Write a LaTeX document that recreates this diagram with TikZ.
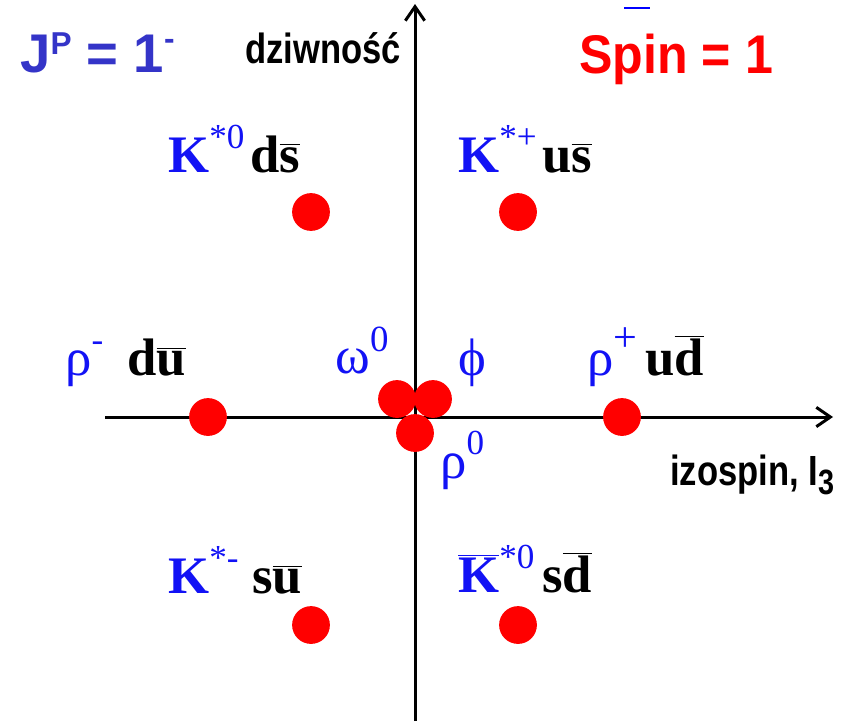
\documentclass[tikz,border=0pt]{standalone}
\usepackage{graphicx}
\usepackage{fontspec}
\setmainfont{Liberation Serif}
\newfontfamily\labfont{Liberation Sans}
\usetikzlibrary{arrows.meta}
\definecolor{mesonblue}{RGB}{18,18,245}
\definecolor{titleblue}{RGB}{52,52,200}
\definecolor{dotred}{RGB}{255,0,0}

\newcommand\qbar[1]{$\overline{\hbox{#1}}$}
\newcommand\kup[2][20]{\raisebox{13.5pt}{\fontsize{#1}{#1}\selectfont #2}}

\begin{document}
\begin{tikzpicture}[
  x=0.2mm,y=-0.2mm,
  axis/.style={line width=1.7pt,-{Straight Barb[length=8pt,width=11pt]}},
  dot/.style={circle,fill=dotred,minimum size=21.5pt,inner sep=0pt},
  meson/.style={anchor=base west,inner sep=0pt,text=mesonblue,font=\fontsize{30}{30}\selectfont},
  quark/.style={anchor=base west,inner sep=0pt,font=\fontsize{30}{30}\selectfont\bfseries},
  lab/.style={anchor=base west,inner sep=0pt,font=\labfont\bfseries\fontsize{24}{24}\selectfont}
]
\useasboundingbox (0,0) rectangle (846,721);

% ===================== axes =====================
\coordinate (ybot) at (415,721);
\coordinate (ytop) at (415,4);
\coordinate (xleft) at (105,417);
\coordinate (xright) at (833,417);
\draw[axis] (ybot) -- (ytop);
\draw[axis] (xleft) -- (xright);

% small blue stroke at the top
\coordinate (bl1) at (624,8);
\coordinate (bl2) at (650,8);
\draw[line width=1.2pt,blue] (bl1) -- (bl2);

% ===================== nonet points =====================
\node[dot] (kst0) at (311,212) {};
\node[dot] (kstp) at (518,212) {};
\node[dot] (rhom) at (208,417) {};
\node[dot] (rhop) at (622,417) {};
\node[dot] (kstm) at (311,625) {};
\node[dot] (kstb) at (518,625) {};
\node[dot] (omega) at (397,399) {};
\node[dot] (phi) at (433,399) {};
\node[dot] (rho0) at (415,433) {};

% ===================== meson labels =====================
\node[meson] (kst0lab) at (168,172) {\textbf{K}\kup{*0}};
\node[quark] (kst0q) at (250,172) {d\qbar{s}};
\node[meson] (kstplab) at (458,172) {\textbf{K}\kup{*+}};
\node[quark] (kstpq) at (542,172) {u\qbar{s}};

\node[meson] (rhomlab) at (65,375) {ρ\kup{-}};
\node[quark] (rhomq) at (127,375) {d\qbar{u}};
\node[meson] (omegalab) at (335,373) {ω\raisebox{12pt}{\fontsize{21}{21}\selectfont 0}};
\node[meson] (philab) at (458,375) {ϕ};
\node[meson] (rhoplab) at (587,375) {ρ\kup[24]{+}};
\node[quark] (rhopq) at (645,375) {u\qbar{d}};
\node[meson] (rho0lab) at (440,478) {ρ\kup{0}};

\node[meson] (kstmlab) at (168,593) {\textbf{K}\kup{*-}};
\node[quark] (kstmq) at (252,593) {s\qbar{u}};
\node[meson] (kstblab) at (458,592) {\qbar{\textbf{K}}\kup{*0}};
\node[quark] (kstbq) at (542,592) {s\qbar{d}};

% ===================== titles and axis labels =====================
\node[lab,text=titleblue,font=\labfont\bfseries\fontsize{31}{31}\selectfont] (jp) at (20,72)
  {J\raisebox{10pt}{\fontsize{18}{18}\selectfont P} = 1\raisebox{13pt}{\fontsize{18}{18}\selectfont -}};
\node[lab,text=dotred,font=\labfont\bfseries\fontsize{31}{31}\selectfont] (spin) at (579,73)
  {\scalebox{0.92}[1]{Spin = 1}};
\node[lab,font=\labfont\bfseries\fontsize{24}{24}\selectfont] (ylab) at (245,63)
  {\scalebox{0.82}[1]{dziwność}};
\node[lab] (xlab) at (670,485)
  {\scalebox{0.82}[1]{izospin, I\raisebox{-5.5pt}{\fontsize{20}{20}\selectfont 3}}};

\end{tikzpicture}
\end{document}
